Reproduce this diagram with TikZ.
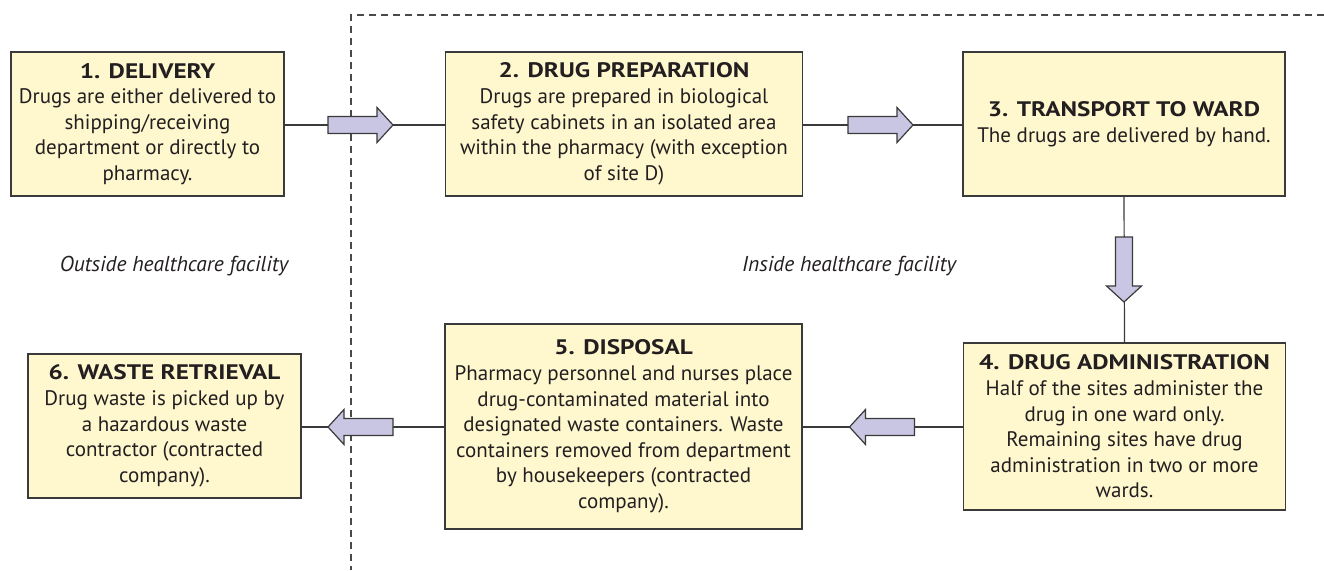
\documentclass[tikz,border=0pt]{standalone}
\usepackage{fontspec}
\setmainfont{PT Sans}
\newfontfamily\titlefont{PT Sans}[FakeStretch=1.2]
\newcommand{\steptitle}[1]{{\titlefont\bfseries #1}}
\definecolor{boxfill}{HTML}{FFF8CF}
\definecolor{boxdraw}{HTML}{3A3A3A}
\definecolor{arrfill}{HTML}{C8C6E3}
\definecolor{txt}{HTML}{231F20}
\definecolor{dashc}{HTML}{4A4A4A}
\tikzset{
  stepbox/.style={draw=boxdraw, fill=boxfill, line width=1.4pt, align=center,
    text=txt, inner sep=0pt, font=\fontsize{21}{25.6}\selectfont},
  link/.style={draw=boxdraw, line width=1.2pt},
  fatarrow/.pic={\draw[draw=boxdraw, fill=arrfill, line width=1.2pt, line join=miter]
    (-32.5,-8.5) -- (16.5,-8.5) -- (16.5,-17.5) -- (32.5,0) -- (16.5,17.5) -- (16.5,8.5) -- (-32.5,8.5) -- cycle;},
  zone/.style={font=\fontsize{21.5}{24}\selectfont\itshape, text=txt},
  border/.style={draw=dashc, line width=1.3pt, dash pattern=on 7pt off 5pt}
}
\begin{document}
\begin{tikzpicture}[x=1pt,y=-1pt]
\useasboundingbox (0,0) rectangle (1324,570);
% dashed boundary
\coordinate (dcorner) at (351,15);
\coordinate (dright) at (1324,15);
\coordinate (dbottom) at (351,570);
\draw[border] (dright) -- (dcorner) -- (dbottom);

\node[stepbox, minimum width=273pt, minimum height=144pt] (b1) at (147.5,124)
  {\steptitle{1. DELIVERY}\\Drugs are either delivered to\\shipping/receiving\\department or directly to\\pharmacy.};
\node[stepbox, minimum width=357pt, minimum height=144pt] (b2) at (624,124)
  {\steptitle{2. DRUG PREPARATION}\\Drugs are prepared in biological\\safety cabinets in an isolated area\\within the pharmacy (with exception\\of site D)};
\node[stepbox, minimum width=322pt, minimum height=144pt] (b3) at (1124,124)
  {\steptitle{3. TRANSPORT TO WARD}\\The drugs are delivered by hand.};
\node[stepbox, minimum width=322pt, minimum height=167pt] (b4) at (1124.5,426.5)
  {\steptitle{4. DRUG ADMINISTRATION}\\Half of the sites administer the\\drug in one ward only.\\Remaining sites have drug\\administration in two or more\\wards.};
\node[stepbox, minimum width=357pt, minimum height=205pt] (b5) at (623.5,426.5)
  {\steptitle{5. DISPOSAL}\\Pharmacy personnel and nurses place\\drug-contaminated material into\\designated waste containers. Waste\\containers removed from department\\by housekeepers (contracted\\company).};
\node[stepbox, minimum width=273pt, minimum height=144pt] (b6) at (164.5,426)
  {\steptitle{6. WASTE RETRIEVAL}\\Drug waste is picked up by\\a hazardous waste\\contractor (contracted\\company).};

\node[zone] (outside) at (174,266) {Outside healthcare facility};
\node[zone] (inside) at (849,266) {Inside healthcare facility};

% connectors
\draw[link] (b1.east |- 0,125) -- (b2.west |- 0,125);
\draw[link] (b2.east |- 0,125) -- (b3.west |- 0,125);
\draw[link] (b3.south) -- (b4.north);
\draw[link] (b4.west |- 0,427) -- (b5.east |- 0,427);
\draw[link] (b5.west |- 0,427) -- (b6.east |- 0,427);

\pic at (360.5,125) {fatarrow};
\pic at (880.5,125) {fatarrow};
\pic[rotate=-90] at (1124,269.5) {fatarrow};
\pic[rotate=180] at (882,427) {fatarrow};
\pic[rotate=180] at (360.5,427) {fatarrow};
\end{tikzpicture}
\end{document}
